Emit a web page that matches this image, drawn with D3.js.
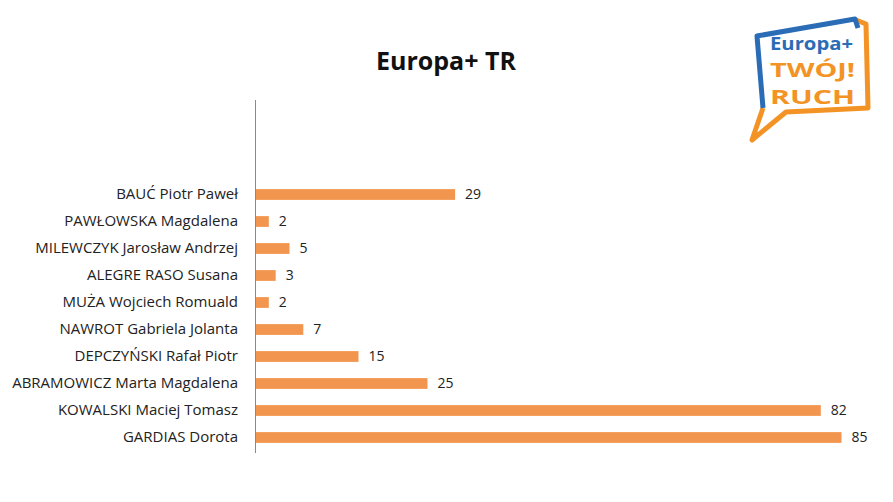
<!DOCTYPE html>
<html>
<head>
<meta charset="utf-8">
<script src="https://cdn.jsdelivr.net/npm/d3@7"></script>
<style>
  body { margin: 0; background: #fff; }
  svg { display: block; }
</style>
</head>
<body>
<div id="chart"></div>
<script>
// candidates, top to bottom as shown
var candidates = [
  'BAUĆ Piotr Paweł',
  'PAWŁOWSKA Magdalena',
  'MILEWCZYK Jarosław Andrzej',
  'ALEGRE RASO Susana',
  'MUŻA Wojciech Romuald',
  'NAWROT Gabriela Jolanta',
  'DEPCZYŃSKI Rafał Piotr',
  'ABRAMOWICZ Marta Magdalena',
  'KOWALSKI Maciej Tomasz',
  'GARDIAS Dorota'
];
var votes = [29, 2, 5, 3, 2, 7, 15, 25, 82, 85];

var title = 'Europa+ TR';

var width = 893, height = 502;

var svg = d3.select('#chart').append('svg')
  .attr('width', width)
  .attr('height', height);

var x = d3.scaleLinear().domain([0, 90]).range([255, 876]);
var y = d3.scaleBand().domain(candidates).range([181, 451])
  .paddingInner(0.6).paddingOuter(0.3);

var data = candidates.map(function(c, i) { return {name: c, v: votes[i]}; });

svg.append('text')
  .attr('x', 446)
  .attr('y', 70)
  .attr('text-anchor', 'middle')
  .style('font-family', 'Open Sans, sans-serif')
  .style('font-weight', 'bold')
  .style('font-size', '25px')
  .attr('fill', '#111')
  .text(title);

// bars
svg.selectAll('rect.bar').data(data)
  .enter().append('rect')
  .attr('class', 'bar')
  .attr('x', x(0))
  .attr('y', function(d) { return y(d.name); })
  .attr('width', function(d) { return x(d.v) - x(0); })
  .attr('height', y.bandwidth())
  .attr('fill', '#f2964f');

// value labels
svg.selectAll('text.val').data(data)
  .enter().append('text')
  .attr('class', 'val')
  .attr('x', function(d) { return x(d.v) + 10; })
  .attr('y', function(d) { return y(d.name) + y.bandwidth() / 2; })
  .attr('dy', '0.35em')
  .style('font-family', 'Open Sans, sans-serif')
  .style('font-size', '14px')
  .attr('fill', '#222')
  .text(function(d) { return d.v; });

// category axis
var yAxis = svg.append('g')
  .attr('transform', 'translate(' + x(0) + ',0)')
  .call(d3.axisLeft(y).tickSize(0).tickPadding(17));
yAxis.select('.domain').remove();
yAxis.selectAll('text')
  .style('font-family', 'Open Sans, sans-serif')
  .style('font-size', '15px')
  .attr('fill', '#222');

svg.append('line')
  .attr('x1', x(0) + 0.5).attr('x2', x(0) + 0.5)
  .attr('y1', 100).attr('y2', 453)
  .attr('stroke', '#8a8a8a');

// logo
var logo = svg.append('g');
logo.append('path')
  .attr('d', 'M856,20 L866,24 L868,108 L786,112 L752,140 L763,108')
  .attr('fill', 'none')
  .attr('stroke', '#f39325')
  .attr('stroke-width', 5)
  .attr('stroke-linejoin', 'round');
logo.append('path')
  .attr('d', 'M763,108 L757,36 L855,19 L858,28')
  .attr('fill', 'none')
  .attr('stroke', '#2a6cb6')
  .attr('stroke-width', 5)
  .attr('stroke-linejoin', 'round');
logo.append('text')
  .attr('x', 770).attr('y', 50)
  .attr('textLength', 83)
  .attr('lengthAdjust', 'spacingAndGlyphs')
  .style('font-family', 'Open Sans, sans-serif')
  .style('font-weight', 'bold')
  .style('font-size', '17px')
  .attr('fill', '#2a6cb6')
  .text('Europa+');
logo.append('text')
  .attr('x', 770).attr('y', 77)
  .attr('textLength', 85)
  .attr('lengthAdjust', 'spacingAndGlyphs')
  .style('font-family', 'Open Sans, sans-serif')
  .style('font-weight', 'bold')
  .style('font-size', '20px')
  .attr('fill', '#f39325')
  .text('TWÓJ!');
logo.append('text')
  .attr('x', 770).attr('y', 104)
  .attr('textLength', 85)
  .attr('lengthAdjust', 'spacingAndGlyphs')
  .style('font-family', 'Open Sans, sans-serif')
  .style('font-weight', 'bold')
  .style('font-size', '20px')
  .attr('fill', '#f39325')
  .text('RUCH');
</script>
</body>
</html>
